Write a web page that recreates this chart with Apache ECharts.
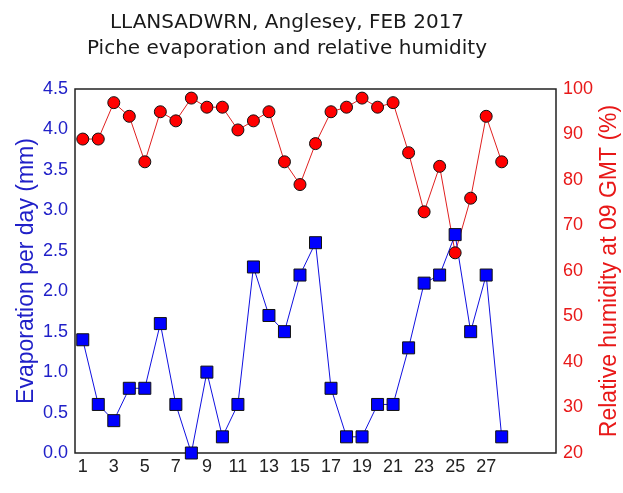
<!DOCTYPE html>
<html lang="en">
<head>
    <meta charset="UTF-8">
    <title>LLANSADWRN evaporation</title>
    <script src="https://cdn.jsdelivr.net/npm/echarts@6/dist/echarts.min.js"></script>
    <style>
        html, body { margin: 0; padding: 0; background: #fff; }
        #chart { width: 623px; height: 493px; }
    </style>
</head>
<body>
<div id="chart"></div>
<script>
    // days of February 2017
    var days = [1, 2, 3, 4, 5, 6, 7, 8, 9, 10, 11, 12, 13, 14,
        15, 16, 17, 18, 19, 20, 21, 22, 23, 24, 25, 26, 27, 28];
    // Piche evaporation, mm per day
    var evaporation = [1.4, 0.6, 0.4, 0.8, 0.8, 1.6, 0.6, 0.0, 1.0, 0.2, 0.6, 2.3, 1.7, 1.5,
        2.2, 2.6, 0.8, 0.2, 0.2, 0.6, 0.6, 1.3, 2.1, 2.2, 2.7, 1.5, 2.2, 0.2];
    // relative humidity at 09 GMT, %
    var humidity = [89, 89, 97, 94, 84, 95, 93, 98, 96, 96, 91, 93, 95, 84,
        79, 88, 95, 96, 98, 96, 97, 86, 73, 83, 64, 76, 94, 84];
    var xTickLabels = [1, 3, 5, 7, 9, 11, 13, 15, 17, 19, 21, 23, 25, 27];

    var chart = echarts.init(document.getElementById('chart'));

    var titleFont = 'Verdana, "DejaVu Sans", sans-serif';
    var font = 'Arial, "Liberation Sans", sans-serif';
    var blue = '#2020c8';
    var red = '#e81818';

    var option = {
        animation: false,
        title: {
            text: 'LLANSADWRN, Anglesey, FEB 2017\nPiche evaporation and relative humidity',
            left: 282,
            top: 5,
            textAlign: 'center',
            textStyle: {
                fontFamily: titleFont,
                fontSize: 20,
                fontWeight: 'normal',
                color: '#1a1a1a',
                lineHeight: 26
            }
        },
        grid: {
            left: 75,
            right: 67,
            top: 89,
            bottom: 40,
            containLabel: false,
            outerBoundsMode: 'none',
            show: true,
            borderColor: '#222',
            borderWidth: 1.5,
            backgroundColor: 'transparent'
        },
        xAxis: {
            type: 'value',
            min: 0.5,
            max: 31.5,
            axisLine: { show: false },
            axisTick: { show: false },
            splitLine: { show: false },
            axisLabel: {
                customValues: xTickLabels,
                color: '#222',
                fontFamily: font,
                fontSize: 18,
                margin: 5
            }
        },
        yAxis: [{
            type: 'value',
            min: 0,
            max: 4.5,
            interval: 0.5,
            name: 'Evaporation per day (mm)',
            nameLocation: 'middle',
            nameGap: 37,
            nameMoveOverlap: false,
            nameTextStyle: { color: blue, fontFamily: font, fontSize: 23 },
            axisLine: { show: false },
            axisTick: { show: false },
            splitLine: { show: false },
            axisLabel: {
                color: blue,
                fontFamily: font,
                fontSize: 18,
                margin: 7,
                formatter: function (v) { return v.toFixed(1); }
            }
        }, {
            type: 'value',
            min: 20,
            max: 100,
            interval: 10,
            position: 'right',
            name: 'Relative humidity at 09 GMT (%)',
            nameLocation: 'middle',
            nameGap: 42,
            nameRotate: 90,
            nameMoveOverlap: false,
            nameTextStyle: { color: red, fontFamily: font, fontSize: 23 },
            axisLine: { show: false },
            axisTick: { show: false },
            splitLine: { show: false },
            axisLabel: {
                color: red,
                fontFamily: font,
                fontSize: 18,
                margin: 7
            }
        }],
        series: [{
            name: 'Relative humidity',
            type: 'line',
            yAxisIndex: 1,
            data: days.map(function (d, i) { return [d, humidity[i]]; }),
            symbol: 'circle',
            symbolSize: 12,
            lineStyle: { color: '#e02020', width: 1 },
            itemStyle: { color: '#ff0000', borderColor: '#111', borderWidth: 1 }
        }, {
            name: 'Evaporation',
            type: 'line',
            yAxisIndex: 0,
            data: days.map(function (d, i) { return [d, evaporation[i]]; }),
            symbol: 'rect',
            symbolSize: 12,
            lineStyle: { color: '#1010e0', width: 1 },
            itemStyle: { color: '#0000ff', borderColor: '#111', borderWidth: 1 }
        }]
    };
    chart.setOption(option);
</script>
</body>
</html>
